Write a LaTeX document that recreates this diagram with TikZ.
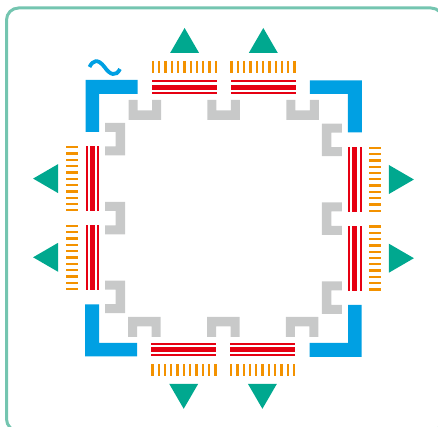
\documentclass[tikz,border=0pt]{standalone}
\usepackage{tikz}

\definecolor{framegreen}{HTML}{74C5B0}
\definecolor{triteal}{HTML}{00A88F}
\definecolor{leadblue}{HTML}{00A0E3}
\definecolor{barred}{HTML}{E60012}
\definecolor{pinorange}{HTML}{F39200}
\definecolor{guardgrey}{HTML}{C8C9C9}

\begin{document}
\begin{tikzpicture}[
    x=1pt, y=-1pt,
    % Shape styles
    frame/.style={draw=framegreen, line width=3pt, rounded corners=12pt},
    tri/.style={fill=triteal},
    lead/.style={fill=leadblue},
    bar/.style={fill=barred},
    pin/.style={draw=pinorange, line width=2.3pt},
    guard/.style={fill=guardgrey},
    wave/.style={draw=leadblue, line width=3.8pt},
]

    \useasboundingbox (0,0) rectangle (438,427);
    \clip (0,0) rectangle (438,427);

    % Outer frame
    \draw[frame] (6.5,8) rectangle (443,431);

    % The four sides are the same, turned about the centre
    \foreach \ang in {0,90,180,270} {
        \begin{scope}[rotate around={\ang:(223.5,218.4)}]
            % Corner lead
            \fill[lead] (85.5,80) -- (137.5,80) -- (137.5,94) -- (99,94) -- (99,132) -- (85.5,132) -- cycle;

            \foreach \xa in {152.3,231} {
                % Red bars
                \fill[bar] (\xa,80.4) rectangle ++(65,2);
                \fill[bar] (\xa,85) rectangle ++(65,4.6);
                \fill[bar] (\xa,92.2) rectangle ++(65,2);
                % Orange pins
                \foreach \k in {0,...,10}
                    \draw[pin] ({\xa+0.6+6.3*\k},61) -- ++(0,11.6);
                % Arrow triangle
                \fill[tri] ({\xa+32.3},28) -- ({\xa+46.8},53) -- ({\xa+17.8},53) -- cycle;
            }

            % Grey guards
            \foreach \xb in {128.7,207.4,286.4}
                \fill[guard] (\xb,100) -- ++(9,0) -- ++(0,10.5) -- ++(14.5,0) -- ++(0,-10.5)
                    -- ++(9,0) -- ++(0,20) -- ++(-32.5,0) -- cycle;
        \end{scope}
    }

    % Wave sign
    \draw[wave] (89.5,67) .. controls (93,60) and (98,58.5) .. (104.5,67)
        .. controls (110,75) and (116,77) .. (120,69);

\end{tikzpicture}
\end{document}
